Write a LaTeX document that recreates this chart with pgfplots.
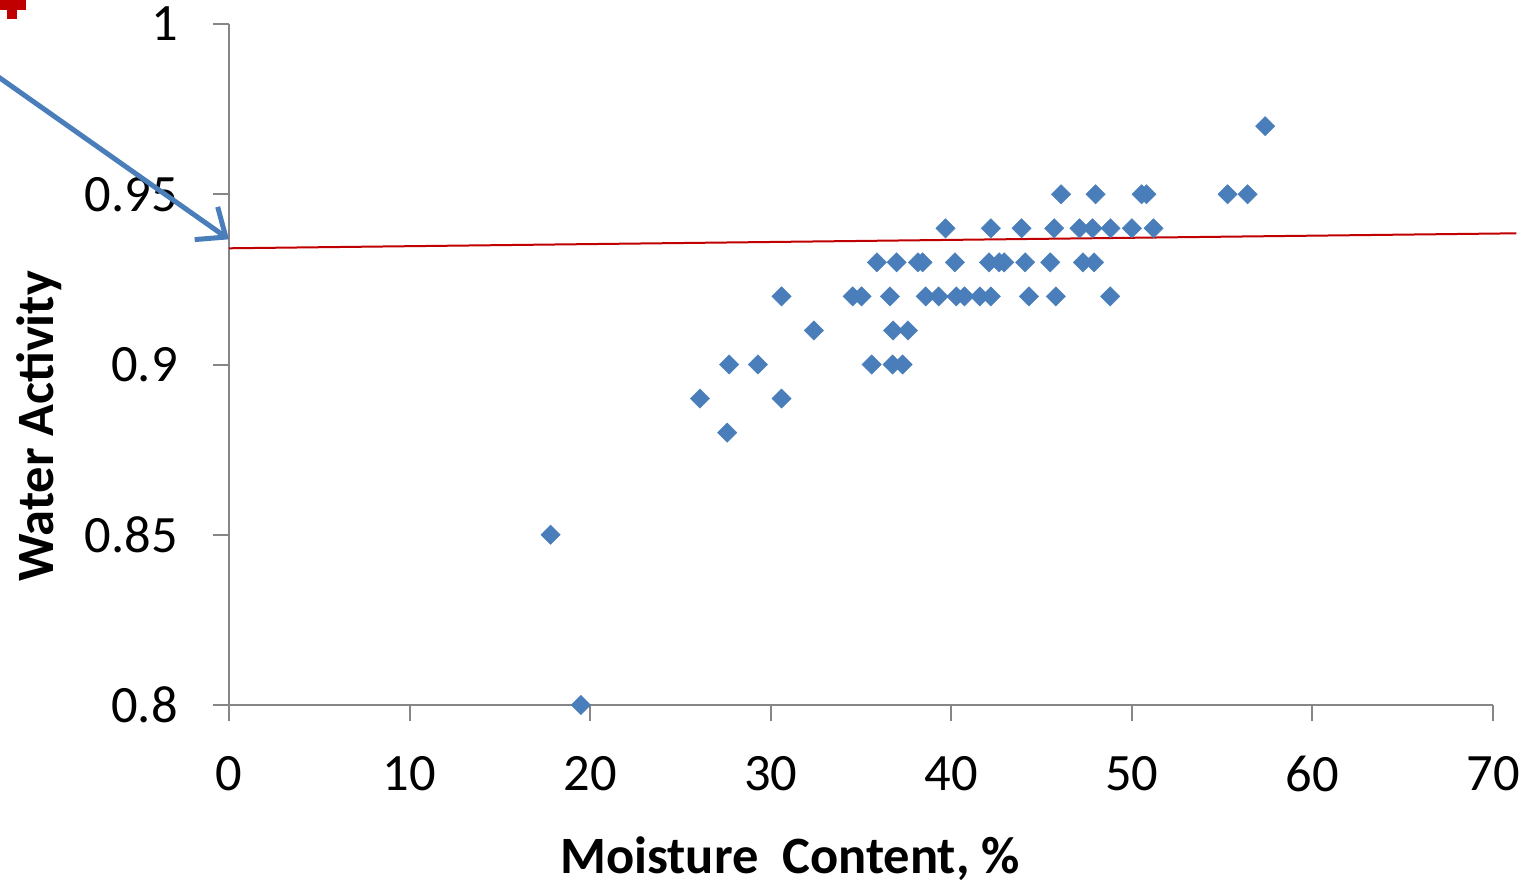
\documentclass[border=0pt]{standalone}
\usepackage{fontspec}
\setmainfont{Carlito}
\usepackage{pgfplots}
\pgfplotsset{compat=1.18}
\usetikzlibrary{arrows.meta}
\definecolor{ptblue}{HTML}{4A7EBB}
\definecolor{lnred}{HTML}{C00000}
\definecolor{axgray}{HTML}{868686}
\pgfplotstableread{
x y
17.81 0.85
19.49 0.80
26.08 0.89
27.59 0.88
27.70 0.90
29.29 0.90
30.60 0.89
30.60 0.92
32.39 0.91
34.54 0.92
35.03 0.92
35.59 0.90
35.88 0.93
36.60 0.92
36.75 0.90
36.78 0.91
36.97 0.93
37.30 0.90
37.60 0.91
38.15 0.93
38.41 0.93
38.58 0.92
39.30 0.92
39.68 0.94
40.20 0.93
40.28 0.92
40.73 0.92
41.58 0.92
42.09 0.93
42.19 0.94
42.19 0.92
42.65 0.93
42.93 0.93
43.89 0.94
44.09 0.93
44.30 0.92
45.48 0.93
45.70 0.94
45.79 0.92
46.08 0.95
47.10 0.94
47.29 0.93
47.82 0.94
47.91 0.93
47.99 0.95
48.82 0.94
48.80 0.92
50.00 0.94
50.54 0.95
50.81 0.95
51.20 0.94
55.30 0.95
56.41 0.95
57.38 0.97
}\pts
\begin{document}
\begin{tikzpicture}
\begin{axis}[
  name=ax,
  scale only axis, width=1264bp, height=681bp,
  xmin=0, xmax=70, ymin=0.8, ymax=1,
  axis x line=bottom, axis y line=left,
  axis line style={-, draw=axgray, line width=2bp},
  tick align=outside, major tick length=16bp,
  tick style={draw=axgray, line width=2bp},
  xtick={0,10,20,30,40,50,60,70},
  xticklabels={0,10,20,30,40,50,60,70},
  ytick={0.8,0.85,0.9,0.95,1},
  yticklabels={0.8,0.85,0.9,0.95,1},
  every tick label/.append style={font=\fontsize{52.5bp}{63bp}\selectfont, inner sep=0pt},
  xticklabel style={anchor=north},
  yticklabel style={anchor=east},
  xticklabel shift=35bp,
  yticklabel shift=35bp,
  xlabel={Moisture\ \ Content, \%},
  ylabel={Water Activity},
  label style={font=\fontsize{52.5bp}{63bp}\selectfont\bfseries, inner sep=0pt},
  xlabel style={at={(axis description cs:0.4438,-0.2467)}, anchor=base},
  ylabel style={at={(axis description cs:-0.1392,0.409)}, anchor=base},
  clip=false,
]
\addplot[lnred, line width=2bp] coordinates {(0,0.93413) (71.3,0.93853)};
\addplot[ptblue, line width=5bp, -{Straight Barb[length=24bp,width=40bp]}] coordinates {(-13.79,0.98825) (0,0.93677)};
\addplot[only marks, mark=+, mark size=14bp, mark options={draw=lnred, line width=10bp}] coordinates {(-12.03,1.00558)};
\addplot[only marks, mark=square*, mark size=6.8bp, mark options={rotate=45, fill=ptblue, draw=ptblue, line width=0.5bp}] table[x=x,y=y] {\pts};
\coordinate (bl) at (rel axis cs:0,0);
\coordinate (tr) at (rel axis cs:1,1);
\end{axis}
\pgfresetboundingbox
\path[use as bounding box] ([shift={(-229bp,-178bp)}]bl) rectangle ([shift={(37bp,24bp)}]tr);
\end{tikzpicture}
\end{document}
